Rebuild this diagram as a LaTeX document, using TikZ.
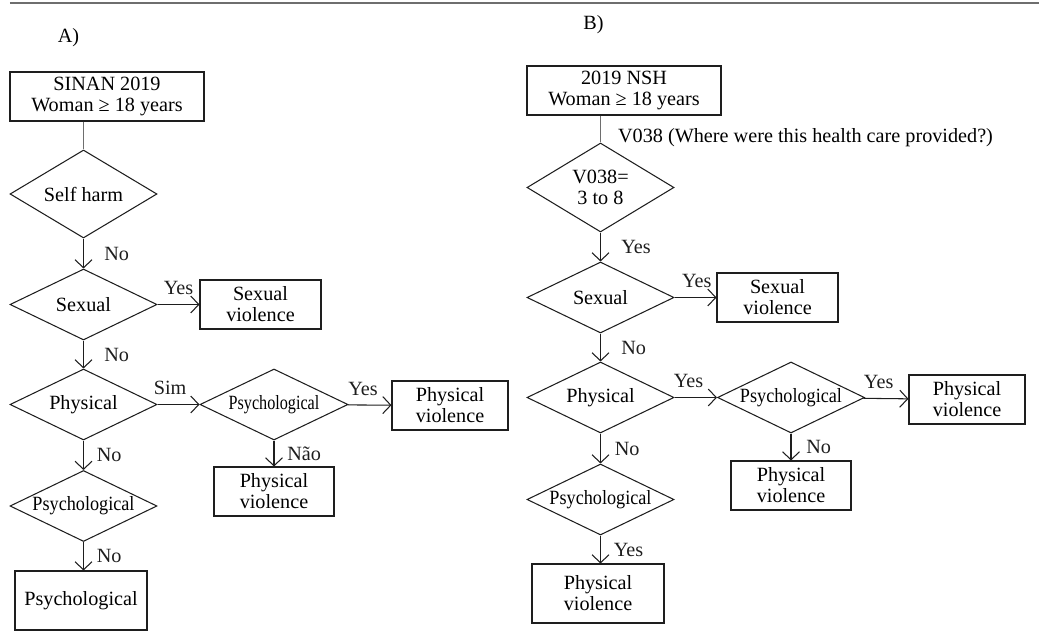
\documentclass[tikz,border=0pt]{standalone}
\usepackage{fontspec}
\usepackage{graphicx}
\setmainfont{Liberation Serif}
\usetikzlibrary{arrows.meta,shapes.geometric}
\definecolor{ruleGray}{HTML}{6E6E6E}
\definecolor{inkGray}{HTML}{1E1E1E}
\newcommand{\narrow}[2]{\scalebox{#1}[1]{#2}}
\tikzset{
  outbox/.style={draw=inkGray,line width=0.6pt,minimum width=2.4cm,minimum height=0.98cm,
    align=center,inner sep=2pt,font=\fontsize{11.5}{12}\selectfont},
  decision/.style={draw=inkGray,line width=0.6pt,diamond,aspect=2.07,minimum width=2.94cm,
    minimum height=1.42cm,inner sep=0pt,align=center,font=\fontsize{11.5}{12}\selectfont},
  flow/.style={-{Straight Barb[length=1.6mm,width=3.4mm]},line width=0.6pt,inkGray},
  link/.style={line width=0.6pt,ruleGray},
  lbl/.style={font=\fontsize{11.5}{12}\selectfont,inner sep=1pt}
}
\begin{document}
\begin{tikzpicture}[x=1cm,y=1cm]
  \useasboundingbox (0,0) rectangle (20.78,-12.62);
  \draw[line width=1pt,ruleGray] (0.2,-0.06) -- (20.78,-0.06);

  % panel A
  \node[lbl] (labA) at (1.37,-0.76) {A)};
  \node[outbox,minimum width=3.88cm] (startA) at (2.14,-1.93) {SINAN 2019\\Woman ≥ 18 years};
  \node[decision,aspect=1.67,minimum height=1.76cm] (selfA) at (1.67,-3.88) {Self harm};
  \node[decision] (sexA) at (1.67,-6.09) {Sexual};
  \node[outbox,minimum width=2.42cm] (sexvA) at (5.21,-6.09) {Sexual\\violence};
  \node[decision] (physA) at (1.67,-8.09) {Physical};
  \node[decision,minimum width=2.96cm] (psyA) at (5.48,-8.09) {\narrow{0.8}{Psychological}};
  \node[outbox,minimum width=2.32cm] (pvA1) at (9.00,-8.11) {Physical\\violence};
  \node[outbox] (pvA2) at (5.48,-9.83) {Physical\\violence};
  \node[decision] (psyA2) at (1.67,-10.12) {\narrow{0.9}{Psychological}};
  \node[outbox,minimum width=2.64cm,minimum height=1.18cm] (psyboxA) at (1.62,-12.01) {Psychological};

  \draw[link] (selfA.north |- startA.south) -- (selfA.north);
  \draw[flow] (selfA) -- node[lbl,right=0.37cm]{No} (sexA);
  \draw[flow] (sexA) -- node[lbl,above=4pt]{Yes} (sexvA);
  \draw[flow] (sexA) -- node[lbl,right=0.37cm]{No} (physA);
  \draw[flow] (physA) -- node[lbl,pos=.3,above=4pt]{Sim} (psyA);
  \draw[flow] (psyA) -- node[lbl,pos=.35,above=4pt]{Yes} (pvA1);
  \draw[flow] (psyA) -- node[lbl,right=0.22cm]{Não} (pvA2);
  \draw[flow] (physA) -- node[lbl,right=0.22cm]{No} (psyA2);
  \draw[flow] (psyA2.south) -- node[lbl,right=0.22cm]{No} (psyA2.south |- psyboxA.north);

  % panel B
  \node[lbl] (labB) at (11.87,-0.49) {B)};
  \node[outbox,minimum width=3.88cm] (startB) at (12.48,-1.81) {2019 NSH\\Woman ≥ 18 years};
  \node[decision,aspect=1.65,minimum height=1.78cm] (v038) at (12.01,-3.75) {V038=\\3 to 8};
  \node[lbl,anchor=west] (note) at (12.32,-2.75) {V038 (Where were this health care provided?)};
  \node[decision] (sexB) at (12.01,-5.95) {Sexual};
  \node[outbox,minimum width=2.42cm] (sexvB) at (15.55,-5.95) {Sexual\\violence};
  \node[decision] (physB) at (12.01,-7.95) {Physical};
  \node[decision] (psyB) at (15.82,-7.95) {\narrow{0.9}{Psychological}};
  \node[outbox,minimum width=2.32cm] (pvB1) at (19.34,-7.99) {Physical\\violence};
  \node[outbox] (pvB2) at (15.82,-9.71) {Physical\\violence};
  \node[decision] (psyB2) at (12.01,-9.99) {\narrow{0.9}{Psychological}};
  \node[outbox,minimum width=2.64cm,minimum height=1.18cm] (pvB3) at (11.96,-11.87) {Physical\\violence};

  \draw[link] (v038.north |- startB.south) -- (v038.north);
  \draw[flow] (v038) -- node[lbl,right=0.37cm]{Yes} (sexB);
  \draw[flow] (sexB) -- node[lbl,pos=.53,above=4pt]{Yes} (sexvB);
  \draw[flow] (sexB) -- node[lbl,right=0.37cm]{No} (physB);
  \draw[flow] (physB) -- node[lbl,pos=.33,above=4pt]{Yes} (psyB);
  \draw[flow] (psyB) -- node[lbl,pos=.34,above=4pt]{Yes} (pvB1);
  \draw[flow] (psyB) -- node[lbl,right=0.26cm]{No} (pvB2);
  \draw[flow] (physB) -- node[lbl,right=0.24cm]{No} (psyB2);
  \draw[flow] (psyB2.south) -- node[lbl,right=0.22cm]{Yes} (psyB2.south |- pvB3.north);
\end{tikzpicture}
\end{document}
